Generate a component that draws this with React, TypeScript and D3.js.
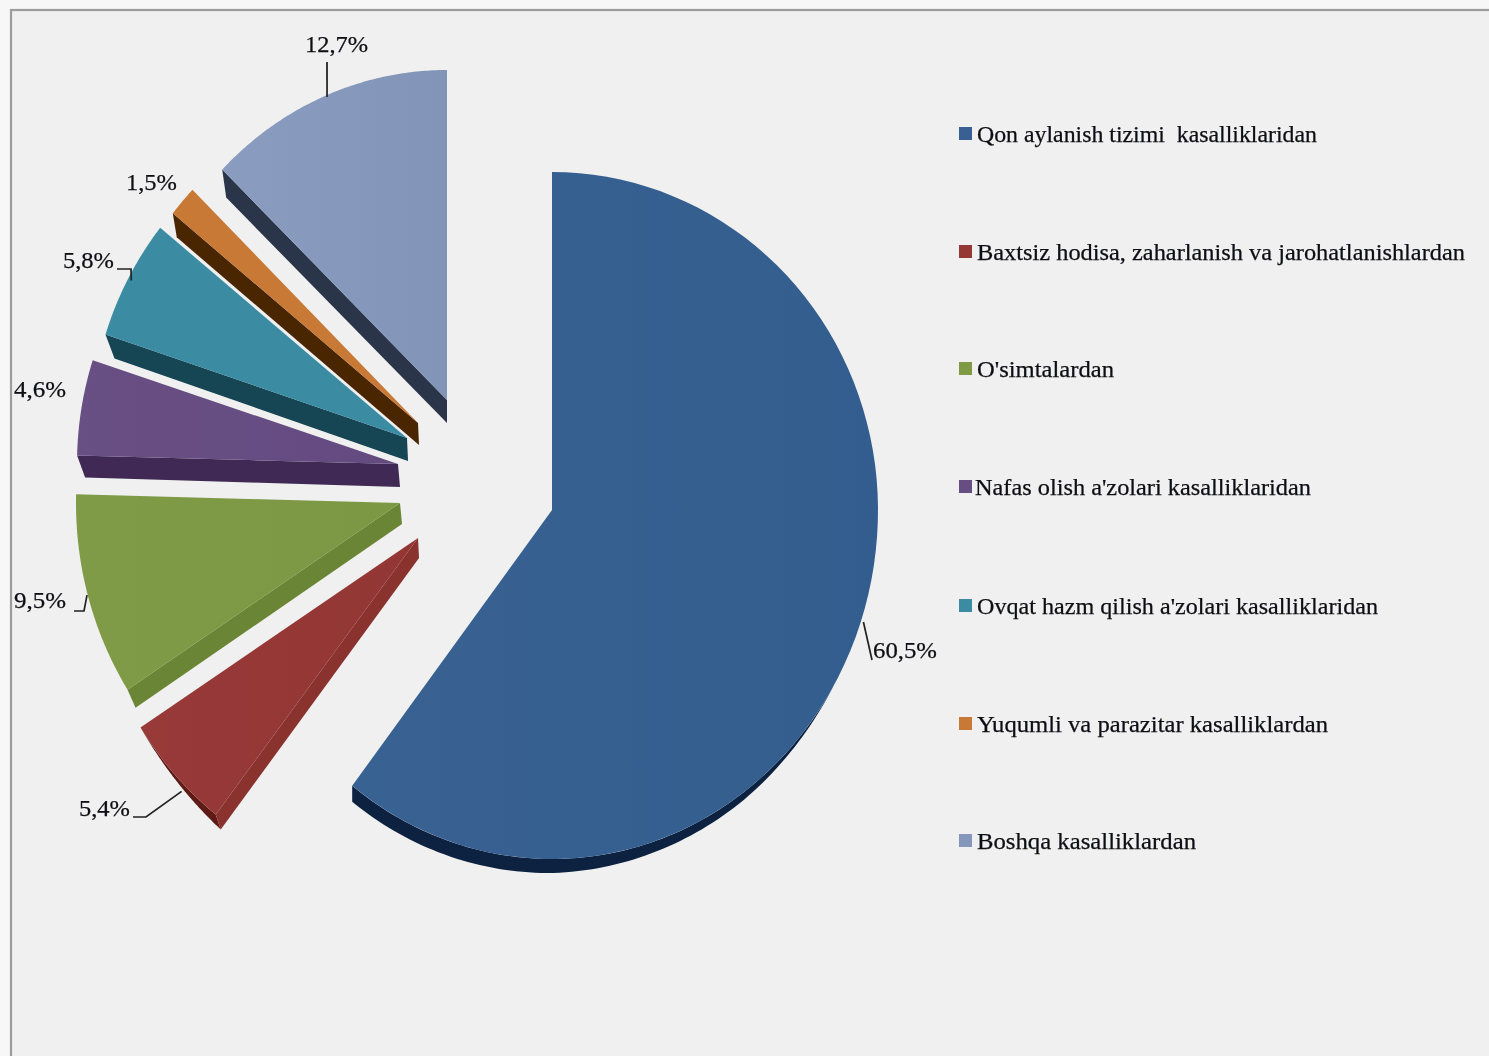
import React from "react";
import * as d3 from "d3";

const categories = [
  "Qon aylanish tizimi  kasalliklaridan",
  "Baxtsiz hodisa, zaharlanish va jarohatlanishlardan",
  "O'simtalardan",
  "Nafas olish a'zolari kasalliklaridan",
  "Ovqat hazm qilish a'zolari kasalliklaridan",
  "Yuqumli va parazitar kasalliklardan",
  "Boshqa kasalliklardan",
];
const values = [60.5, 5.4, 9.5, 4.6, 5.8, 1.5, 12.7];
const valueLabels = ["60,5%", "5,4%", "9,5%", "4,6%", "5,8%", "1,5%", "12,7%"];
const topColors = ["#376092", "#953735", "#7f9a45", "#664d82", "#3a8ca3", "#c87934", "#8497bb"];
const topColorsLeft = ["#386292", "#983a38", "#809b46", "#684f84", "#3a8ca3", "#c87934", "#8a9dc0"];
const topColorsRight = ["#335d8e", "#933634", "#7d9844", "#644b80", "#3a8ca3", "#c87934", "#8295b8"];
const wallColors = ["#0c2340", "#8a302e", "#6b8536", "#3f2c54", "#134452", "#4a2506", "#2b3648"];

// Layout of the exploded 3D pie (apex, radii, side wall)
const apexes = [[552, 510], [418, 538], [400, 503], [398, 464], [407, 438], [418, 423], [447, 400]];
const radiiX = [326, 330, 324, 321, 317, 315, 314];
const radiiUp = [338, 350, 345, 336, 335, 334, 330];
const radiiDown = [349, 350, 345, 336, 335, 334, 330];
const wallOuter = [[0, 16], [5, 15], [8, 18], [8, 22], [9, 24], [4, 24], [4, 28]];
const wallApex = [[0, 16], [1, 20], [2, 21], [2, 23], [1, 23], [1, 22], [0, 23]];
const labelAnchors = [[873, 658], [79, 816], [14, 608], [14, 397], [63, 268], [126, 190], [305, 52]];
const labelWidths = [64, 51, 52, 52, 51, 51, 63];
const leaderTails = [
  [[872, 660]],
  [[146, 817], [133, 817]],
  [[84, 611], [74, 611]],
  null,
  [[131, 269], [117, 269]],
  null,
  [[327, 62]],
];
const leaderHeadOffset = [[3, -1], [7, 17], [-1, -1], [0, 0], [3, 2], [0, 0], [2, 1]];
const legendY = [134, 252, 369, 487, 606, 724, 841];
const legendTextX = [977, 977, 977, 975, 977, 977, 977];
const legendWidths = [340, 488, 137, 336, 401, 351, 219];

const TAU = Math.PI * 2;
const deg = (d: number) => (d / 360) * TAU;
const pieGen = d3.pie<number>().sort(null).startAngle(0).endAngle(TAU);
const arcs = pieGen(values);
const lineGen = d3.line();

function pt(i: number, t: number): [number, number] {
  const [cx, cy] = apexes[i];
  const c = Math.cos(t);
  return [cx + radiiX[i] * Math.sin(t), cy - (c > 0 ? radiiUp[i] : radiiDown[i]) * c];
}
function arcPts(i: number, a: number, b: number): [number, number][] {
  const n = 90;
  return d3.range(n + 1).map((k) => pt(i, a + ((b - a) * k) / n));
}

const blueRim = d3
  .scaleLinear()
  .domain([deg(120), deg(145), Math.PI, arcs[0].endAngle])
  .range([0, 8, 14, 16])
  .clamp(true);

export default function App() {
  const walls = arcs.map((d, i) => {
    const o = pt(i, d.startAngle);
    const ap = apexes[i];
    const wo = wallOuter[i];
    const wa = wallApex[i];
    return [o, ap, [ap[0] + wa[0], ap[1] + wa[1]], [o[0] + wo[0], o[1] + wo[1]]] as [number, number][];
  });

  // curved rims: the big slice along its bottom, the red slice along its outer edge
  const rimBlue = (() => {
    const t0 = deg(120);
    const top = arcPts(0, t0, arcs[0].endAngle);
    const bottom = top
      .map((p, k) => {
        const t = t0 + ((arcs[0].endAngle - t0) * k) / 90;
        return [p[0], p[1] + blueRim(t)] as [number, number];
      })
      .reverse();
    return [...top, ...bottom];
  })();
  const rimRed = (() => {
    const a = arcs[1];
    const top = arcPts(1, a.endAngle, a.startAngle);
    const bottom = top
      .map((p, k) => [p[0] + (wallOuter[1][0] * k) / 90, p[1] + (wallOuter[1][1] * k) / 90] as [number, number])
      .reverse();
    return [...top, ...bottom];
  })();

  return (
    <svg
      width={1489}
      height={1056}
      viewBox="0 0 1489 1056"
      style={{ position: "absolute", left: 0, top: 0, display: "block" }}
      fontFamily="'Liberation Serif', serif"
    >
      <defs>
        <filter id="soft" x="-2%" y="-2%" width="104%" height="104%">
          <feGaussianBlur stdDeviation="0.5" />
        </filter>
        {arcs.map((_, i) => (
          <linearGradient key={i} id={`top${i}`} x1="0" y1="0" x2="1" y2="0">
            <stop offset="0" stopColor={topColorsLeft[i]} />
            <stop offset="1" stopColor={topColorsRight[i]} />
          </linearGradient>
        ))}
      </defs>
      <rect x={0} y={0} width={1489} height={1056} fill="#f7f7f7" />
      <rect x={11} y={10} width={1500} height={1070} fill="#f0f0f0" stroke="#9c9c9c" strokeWidth={2.2} />
      <g filter="url(#soft)">
        <path d={lineGen(rimBlue) + "Z"} fill={wallColors[0]} />
        <path d={lineGen(rimRed) + "Z"} fill="#5e1a18" />
        {walls.map((w, i) => (i === 0 ? null : <path key={i} d={lineGen(w) + "Z"} fill={wallColors[i]} />))}
        {arcs.map((d, i) => {
          const pts = [apexes[i] as [number, number], ...arcPts(i, d.startAngle, d.endAngle)];
          return <path key={i} d={lineGen(pts) + "Z"} fill={`url(#top${i})`} />;
        })}
        {arcs.map((d, i) => {
          const tail = leaderTails[i];
          if (!tail) return null;
          const h = pt(i, (d.startAngle + d.endAngle) / 2);
          const off = leaderHeadOffset[i];
          const pts = [[h[0] + off[0], h[1] + off[1]], ...tail] as [number, number][];
          return <path key={i} d={lineGen(pts) ?? ""} fill="none" stroke="#222" strokeWidth={1.7} />;
        })}
        {valueLabels.map((t, i) => (
          <text
            key={i}
            x={labelAnchors[i][0]}
            y={labelAnchors[i][1]}
            fontSize={24}
            fill="#0e0e14"
            stroke="#0e0e14"
            strokeWidth={0.25}
            textLength={labelWidths[i]}
            lengthAdjust="spacingAndGlyphs"
          >
            {t}
          </text>
        ))}
        {categories.map((t, i) => (
          <g key={i}>
            <rect x={959} y={legendY[i] - 7} width={13} height={13} fill={topColors[i]} />
            <text
              x={legendTextX[i]}
              y={legendY[i] + 8}
              fontSize={24}
              fill="#0e0e14"
              stroke="#0e0e14"
              strokeWidth={0.25}
              textLength={legendWidths[i]}
              lengthAdjust="spacingAndGlyphs"
              style={{ whiteSpace: "pre" }}
            >
              {t}
            </text>
          </g>
        ))}
      </g>
    </svg>
  );
}
